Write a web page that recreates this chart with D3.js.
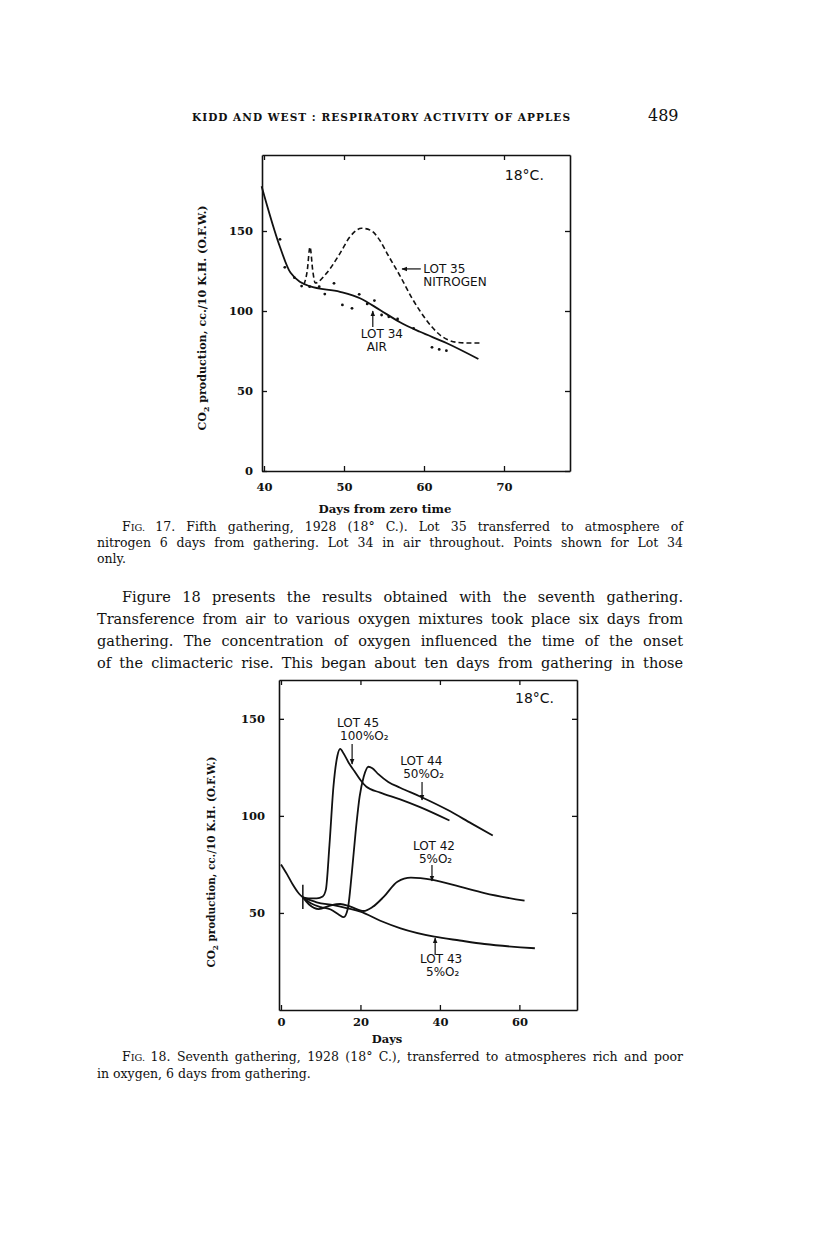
<!DOCTYPE html>
<html>
<head>
<meta charset="utf-8">
<script src="https://cdn.jsdelivr.net/npm/d3@7"></script>
<style>
  body { margin: 0; background: #fff; }
  svg { display: block; }
</style>
</head>
<body>
<svg id="page" width="816" height="1248"></svg>
<script>
// ---- Fig. 17 data (days from zero time, CO2 cc./10 K.H.) ----
const fig17XTicks = [40, 50, 60, 70];
const fig17YTicks = [0, 50, 100, 150];

// Lot 34, air throughout (smooth curve)
const lot34Air = [[39.7, 178], [42, 140], [43.3, 124], [45.7, 115.5], [49.5, 112], [52, 108],
  [54.5, 100.6], [57, 93], [59.5, 87], [62.8, 80], [66.8, 70]];

// Lot 34 observed points
const lot34Points = [[42.0, 144.8], [42.6, 127.3], [43.8, 120.8], [44.7, 115.6], [45.7, 115.2],
  [46.9, 115.2], [47.6, 110.6], [48.75, 117.3], [49.8, 103.8], [51.0, 101.7], [51.9, 110.4],
  [52.9, 104.4], [53.8, 106.5], [54.7, 97.5], [55.6, 96.4], [56.7, 95], [58.7, 89.2],
  [61.0, 77.3], [61.9, 76], [62.8, 75.2]];

// Lot 35, transferred to nitrogen (dashed)
const lot35Nitrogen = [[45.0, 116.5], [45.4, 125], [45.75, 140], [46.1, 125], [46.4, 117.5],
  [47.8, 123.5], [49.5, 136], [50.75, 146.4], [52.2, 151.7], [53.3, 150.5], [54.5, 144],
  [55.5, 135], [57, 122], [58.5, 108], [59.5, 100], [61, 90], [62, 85], [63, 82],
  [64, 80.5], [65.5, 80], [67.2, 80]];

// ---- Fig. 18 data (days, CO2 cc./10 K.H.) ----
const fig18XTicks = [0, 20, 40, 60];
const fig18YTicks = [50, 100, 150];
const transferDay = 5.5;

const airBefore = [[0, 75], [1.5, 70], [3, 64.5], [4.5, 60], [5.5, 58]];
const lot45 = [[5.5, 58], [7, 57.5], [9, 57.5], [10.5, 58.5], [11.3, 62], [12.2, 85], [13.2, 115],
  [14.2, 131], [14.9, 134.5], [15.8, 132], [17, 127.5], [18.5, 123], [20, 118.5], [21.5, 115],
  [25, 112], [30, 108.5], [35, 104.5], [42.4, 97.6]];
const lot44 = [[5.5, 58], [7.5, 55], [10, 53], [12.5, 51.8], [14.5, 49.2], [15.8, 47.8], [16.8, 52],
  [17.8, 70], [18.8, 92], [19.8, 110], [20.8, 120], [22, 125.3], [23, 124.5], [24.5, 121.5],
  [27, 117.5], [30, 114.5], [35, 110], [42, 103], [48, 96], [53.3, 89.9]];
const lot42 = [[5.5, 58], [7, 54.5], [9.5, 52], [12.4, 53.8], [14.9, 54.6], [17.5, 53.2], [20.8, 51],
  [23, 53], [25.9, 58.4], [29.3, 66.1], [32.7, 68.2], [38.2, 67], [45, 63.5], [51.2, 60.2], [61.3, 56.3]];
const lot43 = [[5.5, 58], [9, 55.5], [13.2, 54], [16.5, 52.5], [20, 50.7], [25, 46], [30.1, 42.1],
  [38.6, 37.8], [45, 35.8], [51.2, 34], [63.9, 31.8]];

// label positions in data units: [day, value] of first line, arrow from/to
const fig17Notes = [
  {lines: ["LOT 35", "NITROGEN"], at: [59.9, 123.75], indent: 0, arrow: [[59.6, 126.3], [57.25, 126.3]]},
  {lines: ["LOT 34", "AIR"], at: [52.1, 83.1], indent: 6, arrow: [[53.6, 90], [53.6, 100]]}
];
const fig18Notes = [
  {lines: ["LOT 45", "100%O₂"], at: [14.1, 145.8], indent: 3, arrow: [[17.9, 137], [17.9, 126.7]]},
  {lines: ["LOT 44", "50%O₂"], at: [30, 126.2], indent: 3, arrow: [[35.5, 117.5], [35.5, 108.2]]},
  {lines: ["LOT 42", "5%O₂"], at: [33.2, 82.4], indent: 6, arrow: [[38, 74.7], [38, 66.5]]},
  {lines: ["LOT 43", "5%O₂"], at: [35, 24.2], indent: 6, arrow: [[38.8, 28.3], [38.8, 37.1]]}
];

const ink = "#111";
const serif = "'DejaVu Serif', 'Liberation Serif', serif";
const lettering = "'DejaVu Sans', 'Liberation Sans', sans-serif";

const svg = d3.select("#page");

// arrowhead for the lettering arrows
svg.append("defs").append("marker")
  .attr("id", "head")
  .attr("viewBox", "0 0 10 10")
  .attr("refX", 9).attr("refY", 5)
  .attr("markerWidth", 6).attr("markerHeight", 6)
  .attr("markerUnits", "userSpaceOnUse")
  .attr("orient", "auto")
  .append("path")
  .attr("d", "M0,1 L10,5 L0,9 Z")
  .attr("fill", ink);

/**
 * spread a line of text to a given width by widening the spaces
 */
function justify(sel, width) {
  const node = sel.node();
  const natural = node.getComputedTextLength();
  const gaps = (node.textContent.match(/ /g) || []).length;
  if (gaps > 0) sel.attr("word-spacing", (width - natural) / gaps);
}

function textLine(x, y, size, str, width) {
  const t = svg.append("text")
    .attr("x", x).attr("y", y)
    .attr("font-family", serif)
    .attr("font-size", size)
    .attr("fill", ink)
    .text(str);
  if (width) justify(t, width);
  return t;
}

function figLabel(x, y, size, num, rest, width) {
  const t = svg.append("text")
    .attr("x", x).attr("y", y)
    .attr("font-family", serif)
    .attr("font-size", size)
    .attr("fill", ink);
  t.append("tspan").text("F");
  t.append("tspan").attr("font-size", size * 0.78).text("IG. ");
  t.append("tspan").text(num + " " + rest);
  if (width) justify(t, width);
  return t;
}

/**
 * Frame with inward ticks on all four sides
 */
function drawFrame(g, x, y, xTicks, yTicks, yPad, xPad) {
  const [x0, x1] = x.range();
  const [y0, y1] = y.range();
  g.append("g").attr("transform", `translate(${x0},0)`)
    .call(d3.axisLeft(y).tickValues(yTicks).tickSize(-5).tickSizeOuter(0).tickPadding(yPad));
  g.append("g").attr("transform", `translate(0,${y0})`)
    .call(d3.axisBottom(x).tickValues(xTicks).tickSize(-5).tickSizeOuter(0).tickPadding(xPad));
  g.append("g").attr("transform", `translate(0,${y1})`)
    .call(d3.axisTop(x).tickValues(xTicks).tickSize(-5).tickSizeOuter(0).tickFormat(""));
  g.append("g").attr("transform", `translate(${x1},0)`)
    .call(d3.axisRight(y).tickValues(yTicks).tickSize(-5).tickSizeOuter(0).tickFormat(""));
  g.selectAll(".domain").attr("stroke", ink).attr("stroke-width", 1.6);
  g.selectAll(".tick line").attr("stroke", ink).attr("stroke-width", 1.3);
  g.selectAll(".tick text")
    .attr("font-family", serif)
    .attr("font-weight", "bold")
    .attr("font-size", 11.5)
    .attr("fill", ink);
}

function yTitle(g, cx, cy, len) {
  const t = g.append("text")
    .attr("transform", `translate(${cx},${cy}) rotate(-90)`)
    .attr("text-anchor", "middle")
    .attr("font-family", serif)
    .attr("font-weight", "bold")
    .attr("font-size", 11.5)
    .attr("fill", ink)
    .attr("textLength", len)
    .attr("lengthAdjust", "spacingAndGlyphs");
  t.append("tspan").text("CO");
  t.append("tspan").attr("font-size", 8).attr("dy", 3).text("2");
  t.append("tspan").attr("dy", -3).text(" production, cc./10 K.H. (O.F.W.)");
}

function notes(g, x, y, list) {
  list.forEach(n => {
    const t = g.append("text")
      .attr("font-family", lettering)
      .attr("font-size", 12)
      .attr("fill", ink);
    n.lines.forEach((s, i) => {
      t.append("tspan")
        .attr("x", x(n.at[0]) + (i ? n.indent : 0))
        .attr("y", y(n.at[1]) + i * 13)
        .text(s);
    });
    g.append("line")
      .attr("x1", x(n.arrow[0][0])).attr("y1", y(n.arrow[0][1]))
      .attr("x2", x(n.arrow[1][0])).attr("y2", y(n.arrow[1][1]))
      .attr("stroke", ink).attr("stroke-width", 1.2)
      .attr("marker-end", "url(#head)");
  });
}

/**
 * Fig. 17: Lot 34 in air, Lot 35 in nitrogen
 */
function createFig17() {
  const x = d3.scaleLinear().domain([39.75, 78.25]).range([262, 570]);
  const y = d3.scaleLinear().domain([0, 197.5]).range([471, 155]);
  const g = svg.append("g");

  drawFrame(g, x, y, fig17XTicks, fig17YTicks, 9, 12);

  const line = d3.line()
    .x(d => x(d[0]))
    .y(d => y(d[1]))
    .curve(d3.curveMonotoneX);

  g.append("path")
    .datum(lot34Air)
    .attr("d", line)
    .attr("fill", "none")
    .attr("stroke", ink)
    .attr("stroke-width", 1.8);

  g.append("path")
    .datum(lot35Nitrogen)
    .attr("d", line)
    .attr("fill", "none")
    .attr("stroke", ink)
    .attr("stroke-width", 1.6)
    .attr("stroke-dasharray", "5,3");

  g.selectAll(".pt")
    .data(lot34Points)
    .enter()
    .append("circle")
    .attr("class", "pt")
    .attr("cx", d => x(d[0]))
    .attr("cy", d => y(d[1]))
    .attr("r", 1.4)
    .attr("fill", ink);

  g.append("text")
    .attr("x", x(70.1)).attr("y", y(181.9))
    .attr("font-family", lettering)
    .attr("font-size", 14)
    .attr("fill", ink)
    .text("18°C.");

  notes(g, x, y, fig17Notes);

  g.append("text")
    .attr("x", 385).attr("y", 513)
    .attr("text-anchor", "middle")
    .attr("font-family", serif)
    .attr("font-weight", "bold")
    .attr("font-size", 11.5)
    .attr("fill", ink)
    .attr("textLength", 133)
    .attr("lengthAdjust", "spacingAndGlyphs")
    .text("Days from zero time");

  yTitle(g, 206, 318, 225);
}

/**
 * Fig. 18: transfer to oxygen mixtures at 6 days
 */
function createFig18() {
  const x = d3.scaleLinear().domain([-0.5, 74.5]).range([279, 577]);
  const y = d3.scaleLinear().domain([0, 170]).range([1010, 680]);
  const g = svg.append("g");

  drawFrame(g, x, y, fig18XTicks, fig18YTicks, 14, 8);

  const line = d3.line()
    .x(d => x(d[0]))
    .y(d => y(d[1]))
    .curve(d3.curveMonotoneX);

  [airBefore, lot45, lot44, lot42, lot43].forEach(series => {
    g.append("path")
      .datum(series)
      .attr("d", line)
      .attr("fill", "none")
      .attr("stroke", ink)
      .attr("stroke-width", 1.8);
  });

  // transfer mark
  g.append("line")
    .attr("x1", x(transferDay)).attr("x2", x(transferDay))
    .attr("y1", y(52)).attr("y2", y(64.5))
    .attr("stroke", ink)
    .attr("stroke-width", 1.5);

  g.append("text")
    .attr("x", x(58.9)).attr("y", y(158.2))
    .attr("font-family", lettering)
    .attr("font-size", 14)
    .attr("fill", ink)
    .text("18°C.");

  notes(g, x, y, fig18Notes);

  g.append("text")
    .attr("x", 387).attr("y", 1043)
    .attr("text-anchor", "middle")
    .attr("font-family", serif)
    .attr("font-weight", "bold")
    .attr("font-size", 11.5)
    .attr("fill", ink)
    .text("Days");

  yTitle(g, 215, 862, 211);
}

// ---- running head ----
svg.append("text")
  .attr("x", 192).attr("y", 121)
  .attr("font-family", serif)
  .attr("font-size", 10.5)
  .attr("font-weight", "bold")
  .attr("fill", ink)
  .attr("textLength", 378)
  .attr("lengthAdjust", "spacing")
  .text("KIDD AND WEST : RESPIRATORY ACTIVITY OF APPLES");
textLine(648, 121, 16, "489");

createFig17();

// ---- caption and body text ----
figLabel(122, 531, 12.5, "17.", "Fifth gathering, 1928 (18° C.). Lot 35 transferred to atmosphere of", 561);
textLine(97, 547, 12.5, "nitrogen 6 days from gathering. Lot 34 in air throughout. Points shown for Lot 34", 586);
textLine(97, 563, 12.5, "only.");

textLine(122, 602, 14.5, "Figure 18 presents the results obtained with the seventh gathering.", 561);
textLine(97, 624, 14.5, "Transference from air to various oxygen mixtures took place six days from", 586);
textLine(97, 646, 14.5, "gathering. The concentration of oxygen influenced the time of the onset", 586);
textLine(97, 668, 14.5, "of the climacteric rise. This began about ten days from gathering in those", 586);

createFig18();

figLabel(122, 1061, 12.5, "18.", "Seventh gathering, 1928 (18° C.), transferred to atmospheres rich and poor", 561);
textLine(97, 1078, 12.5, "in oxygen, 6 days from gathering.");
</script>
</body>
</html>
